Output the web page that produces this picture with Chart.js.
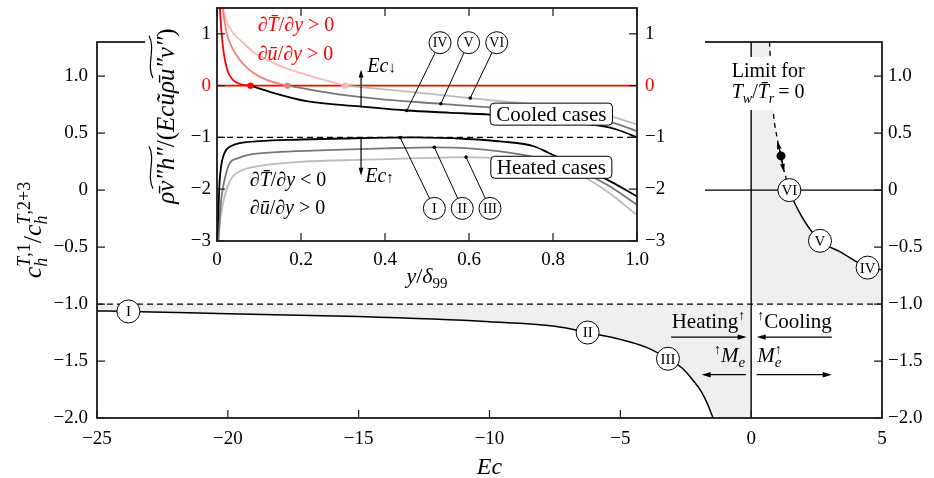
<!DOCTYPE html>
<html>
<head>
<meta charset="utf-8">
<script src="https://cdn.jsdelivr.net/npm/chart.js@4.4.1/dist/chart.umd.min.js"></script>
<style>
  body { margin: 0; background: #fff; }
  #wrap { position: relative; width: 934px; height: 478px; }
  #main { position: absolute; left: 0; top: 0; }
  #inset { position: absolute; left: 145px; top: 0; background: #fff; }
</style>
</head>
<body>
<div id="wrap">
  <canvas id="main" width="934" height="478"></canvas>
  <canvas id="inset" width="560" height="292"></canvas>
</div>
<script>
// ---- main plot: c_h^{T,1}/c_h^{T,2+3} against Ec ----
const heatEc = [-25, -23.8, -20, -15, -10, -7.5, -6.25, -5, -4, -3.18, -2.6, -2.22, -1.9, -1.68, -1.46, -1.3];
const heatRatio = [-1.06, -1.065, -1.085, -1.11, -1.155, -1.195, -1.25, -1.31, -1.38, -1.48, -1.57, -1.67, -1.77, -1.87, -2.0, -2.1];
const limitEc = [0.70, 0.83, 1.0, 1.14, 1.25, 1.33];
const limitRatio = [1.3, 0.73, 0.45, 0.30, 0.18, 0.11];
const coolEc = [1.33, 1.46, 1.93, 2.63, 3.39, 4.45, 5.0];
const coolRatio = [0.11, 0, -0.23, -0.445, -0.54, -0.68, -0.70];
const limitDot = [1.14, 0.30];

const mainXTicks = [-25, -20, -15, -10, -5, 0, 5];
const mainYTicks = [1.0, 0.5, 0, -0.5, -1.0, -1.5, -2.0];

const caseNames = ['I', 'II', 'III', 'IV', 'V', 'VI'];
const caseEc = [-23.8, -6.25, -3.18, 4.45, 2.63, 1.46];
const caseRatio = [-1.065, -1.25, -1.48, -0.68, -0.445, 0];

// ---- inset: normalised heat flux against y/delta99 ----
const ivRedX = [0.006, 0.01, 0.015, 0.02, 0.026, 0.035, 0.046, 0.06, 0.08];
const ivRedY = [1.65, 1.1, 0.7, 0.45, 0.27, 0.14, 0.06, 0.02, 0];
const ivX = [0.08, 0.134, 0.213, 0.34, 0.452, 0.55, 0.65, 0.75, 0.85, 0.936, 0.97, 1.0];
const ivY = [0, -0.14, -0.30, -0.40, -0.48, -0.52, -0.56, -0.62, -0.71, -0.81, -0.9, -1.0];
const vRedX = [0.011, 0.023, 0.035, 0.054, 0.075, 0.1, 0.13, 0.168];
const vRedY = [1.6, 1.02, 0.75, 0.5, 0.32, 0.18, 0.08, 0];
const vX = [0.168, 0.29, 0.4, 0.533, 0.65, 0.75, 0.85, 0.936, 1.0];
const vY = [0, -0.17, -0.27, -0.35, -0.42, -0.48, -0.57, -0.70, -0.88];
const viRedX = [0.011, 0.025, 0.04, 0.054, 0.09, 0.134, 0.17, 0.213, 0.26, 0.305];
const viRedY = [1.6, 1.2, 1.0, 0.89, 0.63, 0.44, 0.32, 0.21, 0.1, 0];
const viX = [0.305, 0.45, 0.603, 0.7, 0.8, 0.9, 0.95, 1.0];
const viY = [0, -0.11, -0.24, -0.32, -0.40, -0.52, -0.62, -0.75];
const iX = [0, 0.003, 0.006, 0.01, 0.015, 0.022, 0.035, 0.054, 0.1, 0.2, 0.3, 0.47, 0.595, 0.68, 0.754, 0.79, 0.86, 0.93, 1.0];
const iY = [-3, -2.5, -1.88, -1.55, -1.36, -1.24, -1.16, -1.11, -1.07, -1.04, -1.02, -1.0, -1.03, -1.08, -1.17, -1.3, -1.56, -1.82, -2.14];
const iiX = [0.003, 0.01, 0.02, 0.03, 0.05, 0.078, 0.15, 0.277, 0.4, 0.515, 0.6, 0.674, 0.75, 0.8, 0.87, 0.93, 1.0];
const iiY = [-3, -2.2, -1.75, -1.5, -1.4, -1.33, -1.28, -1.24, -1.21, -1.19, -1.21, -1.27, -1.37, -1.47, -1.67, -1.92, -2.3];
const iiiX = [0.004, 0.006, 0.015, 0.025, 0.038, 0.06, 0.118, 0.2, 0.356, 0.48, 0.595, 0.7, 0.754, 0.8, 0.87, 0.93, 1.0];
const iiiY = [-3, -2.72, -2.25, -1.95, -1.75, -1.63, -1.53, -1.47, -1.43, -1.40, -1.38, -1.42, -1.46, -1.55, -1.75, -2.05, -2.5];
const crossX = [0.08, 0.168, 0.305];

const insetYTicks = [1, 0, -1, -2, -3];
const insetCircleX = [0.5175, 0.584, 0.650, 0.531, 0.599, 0.666];
const insetCircleY = [-2.37, -2.37, -2.37, 0.83, 0.83, 0.83];
const insetPointX = [0.436, 0.5175, 0.593, 0.452, 0.533, 0.603];
const insetPointY = [-1.0, -1.19, -1.38, -0.48, -0.35, -0.24];

const RED = ['#ff0000', '#f08080', '#f7baba'];
const GREY = ['#000000', '#777777', '#bbbbbb'];
const FILL = '#efefef';

const serif = '"Liberation Serif", "Times New Roman", serif';
Chart.defaults.font.family = serif;
Chart.defaults.color = '#000';
const F = (size, italic) => (italic ? 'italic ' : '') + size + 'px ' + serif;
const pts = (xs, ys) => xs.map((x, i) => ({ x: x, y: ys[i] }));
const minus = v => (v < 0 ? '\u2212' : '') + Math.abs(v);

// draw runs of text with different fonts; a 4th item "true" means no advance (stacked)
function runs(ctx, x, y, parts, align) {
  let total = 0;
  parts.forEach(p => { if (!p[3]) { ctx.font = p[1]; total += ctx.measureText(p[0]).width; } });
  let cx = align === 'center' ? x - total / 2 : align === 'right' ? x - total : x;
  const starts = [];
  ctx.textAlign = 'left';
  ctx.textBaseline = 'alphabetic';
  parts.forEach(p => {
    ctx.font = p[1];
    starts.push(cx);
    ctx.fillText(p[0], cx, y + (p[2] || 0));
    if (!p[3]) cx += ctx.measureText(p[0]).width;
  });
  return { total: total, starts: starts };
}

function arrow(ctx, x1, y1, x2, y2, head) {
  const a = Math.atan2(y2 - y1, x2 - x1);
  ctx.beginPath();
  ctx.moveTo(x1, y1);
  ctx.lineTo(x2 - Math.cos(a) * head * 0.6, y2 - Math.sin(a) * head * 0.6);
  ctx.stroke();
  ctx.beginPath();
  ctx.moveTo(x2, y2);
  ctx.lineTo(x2 - head * Math.cos(a) + head * 0.3 * Math.sin(a), y2 - head * Math.sin(a) - head * 0.3 * Math.cos(a));
  ctx.lineTo(x2 - head * Math.cos(a) - head * 0.3 * Math.sin(a), y2 - head * Math.sin(a) + head * 0.3 * Math.cos(a));
  ctx.closePath();
  ctx.fill();
}

function caseCircle(ctx, x, y, r, label, size) {
  ctx.beginPath();
  ctx.arc(x, y, r, 0, 2 * Math.PI);
  ctx.fillStyle = '#fff';
  ctx.fill();
  ctx.lineWidth = 1;
  ctx.strokeStyle = '#000';
  ctx.stroke();
  ctx.fillStyle = '#000';
  ctx.font = size + 'px ' + serif;
  ctx.textAlign = 'center';
  ctx.textBaseline = 'middle';
  ctx.fillText(label, x, y + 1);
}

function drawFrame(chart, withTop) {
  const { ctx, chartArea: a, scales } = chart;
  const len = 8;
  ctx.save();
  ctx.strokeStyle = '#1a1a1a';
  ctx.lineWidth = 1.2;
  ctx.beginPath();
  scales.x.ticks.forEach(t => {
    const p = scales.x.getPixelForValue(t.value);
    ctx.moveTo(p, a.bottom); ctx.lineTo(p, a.bottom - len);
    if (withTop) { ctx.moveTo(p, a.top); ctx.lineTo(p, a.top + len); }
  });
  scales.y.ticks.forEach(t => {
    const p = scales.y.getPixelForValue(t.value);
    ctx.moveTo(a.left, p); ctx.lineTo(a.left + len, p);
    ctx.moveTo(a.right, p); ctx.lineTo(a.right - len, p);
  });
  ctx.stroke();
  ctx.lineWidth = 1.8;
  ctx.strokeRect(a.left, a.top, a.right - a.left, a.bottom - a.top);
  ctx.restore();
}

function fixedAxis(size, horizontal) {
  return s => {
    if (horizontal) s.height = size; else s.width = size;
    s.paddingTop = 0; s.paddingBottom = 0; s.paddingLeft = 0; s.paddingRight = 0;
  };
}

// ---------------- main chart ----------------
const mainDecor = {
  id: 'mainDecor',
  afterDatasetsDraw(chart) {
    const { ctx, chartArea: a, scales: { x, y } } = chart;
    const X = v => x.getPixelForValue(v), Y = v => y.getPixelForValue(v);
    drawFrame(chart, false);
    ctx.save();
    ctx.fillStyle = '#000';
    ctx.strokeStyle = '#000';
    ctx.lineWidth = 1.2;

    // limit label
    ctx.fillStyle = '#fff';
    ctx.fillRect(X(0) - 24, a.top + 15, 86, 53);
    ctx.fillStyle = '#000';
    runs(ctx, X(0) + 17, a.top + 35, [['Limit for', F(20)]], 'center');
    runs(ctx, X(0) + 17, a.top + 56, [['T', F(20, 1)], ['w', F(14, 1), 5], ['/', F(20)], ['T\u0304', F(20, 1)], ['r', F(14, 1), 5], ['\u2009= 0', F(20)]], 'center');

    // double arrow on the limit point
    arrow(ctx, X(limitDot[0]), Y(limitDot[1]), X(1.0), Y(0.43), 8);
    arrow(ctx, X(limitDot[0]), Y(limitDot[1]), X(1.25), Y(0.16), 8);

    // heating / cooling arrows
    arrow(ctx, X(-3.06), Y(-1.29), X(-0.17), Y(-1.29), 9);
    arrow(ctx, X(3.08), Y(-1.29), X(0.21), Y(-1.29), 9);
    arrow(ctx, X(-0.2), Y(-1.62), X(-1.89), Y(-1.62), 9);
    arrow(ctx, X(0.21), Y(-1.62), X(3.08), Y(-1.62), 9);
    runs(ctx, X(0) - 6, Y(-1.21), [['Heating', F(21)], ['\u2191', F(14), -8]], 'right');
    runs(ctx, X(0) + 6, Y(-1.21), [['\u2191', F(14), -8], ['Cooling', F(21)]], 'left');
    runs(ctx, X(0) - 6, Y(-1.51), [['\u2191', F(14), -8], ['M', F(21, 1)], ['e', F(15, 1), 5]], 'right');
    runs(ctx, X(0) + 6, Y(-1.51), [['M', F(21, 1)], ['e', F(15, 1), 5, true], ['\u2191', F(14), -8]], 'left');

    // case markers
    caseNames.forEach((n, i) => caseCircle(ctx, X(caseEc[i]), Y(caseRatio[i]), 11.5, n, 15));

    // axis titles
    ctx.fillStyle = '#000';
    runs(ctx, (a.left + a.right) / 2, 474, [['Ec', F(24, 1)]], 'center');
    ctx.save();
    ctx.translate(41, (a.top + a.bottom) / 2);
    ctx.rotate(-Math.PI / 2);
    runs(ctx, 0, 0, [
      ['c', F(26, 1)], ['h', F(18, 1), 6, true], ['T', F(18, 1), -11], [',1', F(18), -11],
      ['/', F(26)],
      ['c', F(26, 1)], ['h', F(18, 1), 6, true], ['T', F(18, 1), -11], [',2+3', F(18), -11]
    ], 'center');
    ctx.restore();
    ctx.restore();
  }
};

const leftFill = pts(heatEc, heatRatio).concat([{ x: 0, y: -2.1 }]);
const rightFill = [{ x: 0, y: 1.3 }].concat(pts(limitEc, limitRatio), pts(coolEc, coolRatio));

new Chart(document.getElementById('main'), {
  type: 'line',
  data: {
    datasets: [
      { data: [{ x: limitDot[0], y: limitDot[1] }], showLine: false, pointRadius: 4.5, pointBackgroundColor: '#000', pointBorderWidth: 0, order: 0 },
      { data: pts(limitEc, limitRatio), borderColor: '#000', borderWidth: 1.3, borderDash: [5, 4], cubicInterpolationMode: 'monotone', order: 1 },
      { data: pts(coolEc, coolRatio), borderColor: '#000', borderWidth: 1.5, cubicInterpolationMode: 'monotone', order: 1 },
      { data: pts(heatEc, heatRatio), borderColor: '#000', borderWidth: 1.5, cubicInterpolationMode: 'monotone', order: 1 },
      { data: [{ x: -25, y: -1 }, { x: 5, y: -1 }], borderColor: '#000', borderWidth: 1.2, borderDash: [6, 4], order: 2 },
      { data: [{ x: -15, y: 0 }, { x: 5, y: 0 }], borderColor: '#000', borderWidth: 1.2, order: 2 },
      { data: [{ x: 0, y: -2 }, { x: 0, y: 1.3 }], borderColor: '#222', borderWidth: 1.6, order: 2 },
      { data: leftFill, fill: { value: -1 }, backgroundColor: FILL, borderWidth: 0, cubicInterpolationMode: 'monotone', order: 5 },
      { data: rightFill, fill: { value: -1 }, backgroundColor: FILL, borderWidth: 0, cubicInterpolationMode: 'monotone', order: 5 }
    ]
  },
  options: {
    responsive: false,
    animation: false,
    layout: { padding: { top: 42, left: 0, right: 0, bottom: 0 } },
    elements: { point: { radius: 0 }, line: { tension: 0 } },
    plugins: { legend: { display: false }, tooltip: { enabled: false } },
    scales: {
      x: {
        type: 'linear', min: -25, max: 5,
        afterBuildTicks: s => { s.ticks = mainXTicks.map(v => ({ value: v })); },
        ticks: { padding: 10, color: '#000', font: { family: serif, size: 19 }, callback: v => minus(v) },
        grid: { display: false, drawTicks: false }, border: { display: false },
        afterFit: fixedAxis(60, true)
      },
      y: {
        type: 'linear', min: -2, max: 1.3,
        afterBuildTicks: s => { s.ticks = mainYTicks.map(v => ({ value: v })); },
        ticks: { padding: 9, color: '#000', font: { family: serif, size: 19 }, callback: v => v === 0 ? '0' : (v < 0 ? '\u2212' : '') + Math.abs(v).toFixed(1) },
        grid: { display: false, drawTicks: false }, border: { display: false },
        afterFit: fixedAxis(97, false)
      },
      y2: {
        type: 'linear', position: 'right', min: -2, max: 1.3,
        afterBuildTicks: s => { s.ticks = mainYTicks.map(v => ({ value: v })); },
        ticks: { padding: 6, color: '#000', font: { family: serif, size: 19 }, callback: v => v === 0 ? '0' : (v < 0 ? '\u2212' : '') + Math.abs(v).toFixed(1) },
        grid: { display: false, drawTicks: false }, border: { display: false },
        afterFit: fixedAxis(52, false)
      }
    }
  },
  plugins: [mainDecor]
});

// ---------------- inset chart ----------------
const insetDecor = {
  id: 'insetDecor',
  afterDatasetsDraw(chart) {
    const { ctx, chartArea: a, scales: { x, y } } = chart;
    const X = v => x.getPixelForValue(v), Y = v => y.getPixelForValue(v);
    drawFrame(chart, true);
    ctx.save();
    ctx.strokeStyle = '#000';
    ctx.fillStyle = '#000';
    ctx.lineWidth = 1.2;

    // Ec arrows
    arrow(ctx, X(0.343), Y(-0.42), X(0.343), Y(0.31), 8);
    arrow(ctx, X(0.343), Y(-1.0), X(0.343), Y(-1.74), 8);
    runs(ctx, X(0.358), Y(0.27), [['Ec', F(20, 1)], ['\u2193', F(15)]], 'left');
    runs(ctx, X(0.353), Y(-1.86), [['Ec', F(20, 1)], ['\u2191', F(15)]], 'left');

    // gradient labels
    ctx.fillStyle = '#ff0000';
    runs(ctx, X(0.097), Y(1.06), [['\u2202', F(20)], ['T\u0304', F(20, 1)], ['/\u2202', F(20)], ['y', F(20, 1)], [' > 0', F(20)]], 'left');
    runs(ctx, X(0.097), Y(0.50), [['\u2202', F(20)], ['u\u0304', F(20, 1)], ['/\u2202', F(20)], ['y', F(20, 1)], [' > 0', F(20)]], 'left');
    ctx.fillStyle = '#000';
    runs(ctx, X(0.078), Y(-1.93), [['\u2202', F(20)], ['T\u0304', F(20, 1)], ['/\u2202', F(20)], ['y', F(20, 1)], [' < 0', F(20)]], 'left');
    runs(ctx, X(0.078), Y(-2.48), [['\u2202', F(20)], ['u\u0304', F(20, 1)], ['/\u2202', F(20)], ['y', F(20, 1)], [' > 0', F(20)]], 'left');

    // case boxes
    [['Cooled cases', -0.55], ['Heated cases', -1.576]].forEach(b => {
      ctx.font = F(21);
      const w = ctx.measureText(b[0]).width + 12;
      const cx = X(0.796), cy = Y(b[1]);
      ctx.beginPath();
      ctx.roundRect(cx - w / 2, cy - 11, w, 22, 4);
      ctx.fillStyle = '#fff';
      ctx.fill();
      ctx.lineWidth = 1;
      ctx.stroke();
      ctx.fillStyle = '#000';
      ctx.textAlign = 'center';
      ctx.textBaseline = 'middle';
      ctx.fillText(b[0], cx, cy + 1);
    });

    // case leaders and circles
    caseNames.forEach((n, i) => {
      const px = X(insetPointX[i]), py = Y(insetPointY[i]);
      ctx.strokeStyle = '#000';
      ctx.lineWidth = 1;
      ctx.beginPath();
      ctx.moveTo(px, py);
      ctx.lineTo(X(insetCircleX[i]), Y(insetCircleY[i]));
      ctx.stroke();
      ctx.beginPath();
      ctx.arc(px, py, 1.8, 0, 2 * Math.PI);
      ctx.fillStyle = '#000';
      ctx.fill();
      caseCircle(ctx, X(insetCircleX[i]), Y(insetCircleY[i]), 11, n, 14);
    });

    // axis titles
    ctx.fillStyle = '#000';
    runs(ctx, (a.left + a.right) / 2, 283, [['y', F(22, 1)], ['/', F(22)], ['\u03b4', F(22, 1)], ['99', F(15), 5]], 'center');
    ctx.save();
    ctx.translate(29, 116);
    ctx.rotate(-Math.PI / 2);
    const r = runs(ctx, 0, 0, [
      ['\u03c1\u0304', F(25, 1)], ['v\u2033h\u2033', F(25, 1)], ['/(', F(25)], ['Ec', F(25, 1)],
      ['u\u0303', F(25, 1)], ['\u03c1\u0304', F(25, 1)], ['u\u2033v\u2033', F(25, 1)], [')', F(25)]
    ], 'center');
    ctx.lineWidth = 1.2;
    ctx.strokeStyle = '#000';
    [[1, 2], [6, 7]].forEach(seg => {
      const x0 = r.starts[seg[0]] + 3, x1 = r.starts[seg[1]] + 1, w = x1 - x0, t = -23;
      ctx.beginPath();
      ctx.moveTo(x0, t + 2);
      ctx.bezierCurveTo(x0 + w * 0.3, t - 5, x0 + w * 0.7, t + 5, x1, t - 2);
      ctx.stroke();
    });
    ctx.restore();
    ctx.restore();
  }
};

const curve = (xs, ys, color, order) => ({
  data: pts(xs, ys), borderColor: color, borderWidth: 1.8, cubicInterpolationMode: 'monotone', order: order
});

new Chart(document.getElementById('inset'), {
  type: 'line',
  data: {
    datasets: [
      { data: crossX.map(v => ({ x: v, y: 0 })), showLine: false, pointRadius: 3.2, pointBorderWidth: 0, pointBackgroundColor: RED, order: 0 },
      curve(ivRedX, ivRedY, RED[0], 1),
      curve(ivX, ivY, GREY[0], 1),
      curve(iX, iY, GREY[0], 1),
      curve(vRedX, vRedY, RED[1], 2),
      curve(vX, vY, GREY[1], 2),
      curve(iiX, iiY, GREY[1], 2),
      curve(viRedX, viRedY, RED[2], 3),
      curve(viX, viY, GREY[2], 3),
      curve(iiiX, iiiY, GREY[2], 3),
      { data: [{ x: 0, y: 0 }, { x: 1, y: 0 }], borderColor: '#ff0000', borderWidth: 1.6, order: 4 },
      { data: [{ x: 0, y: -1 }, { x: 1, y: -1 }], borderColor: '#000', borderWidth: 1.2, borderDash: [6, 4], order: 4 }
    ]
  },
  options: {
    responsive: false,
    animation: false,
    layout: { padding: { top: 8, left: 0, right: 0, bottom: 0 } },
    elements: { point: { radius: 0 }, line: { tension: 0 } },
    plugins: { legend: { display: false }, tooltip: { enabled: false } },
    scales: {
      x: {
        type: 'linear', min: 0, max: 1,
        ticks: { stepSize: 0.2, padding: 8, color: '#000', font: { family: serif, size: 19 }, callback: v => v === 0 ? '0' : v.toFixed(1) },
        grid: { display: false, drawTicks: false }, border: { display: false },
        afterFit: fixedAxis(51, true)
      },
      y: {
        type: 'linear', min: -3, max: 1.5,
        afterBuildTicks: s => { s.ticks = insetYTicks.map(v => ({ value: v })); },
        ticks: { padding: 6, font: { family: serif, size: 19 }, color: c => c.tick && c.tick.value === 0 ? '#ff0000' : '#000', callback: v => minus(v) },
        grid: { display: false, drawTicks: false }, border: { display: false },
        afterFit: fixedAxis(72, false)
      },
      y2: {
        type: 'linear', position: 'right', min: -3, max: 1.5,
        afterBuildTicks: s => { s.ticks = insetYTicks.map(v => ({ value: v })); },
        ticks: { padding: 8, font: { family: serif, size: 19 }, color: c => c.tick && c.tick.value === 0 ? '#ff0000' : '#000', callback: v => minus(v) },
        grid: { display: false, drawTicks: false }, border: { display: false },
        afterFit: fixedAxis(68, false)
      }
    }
  },
  plugins: [insetDecor]
});
</script>
</body>
</html>
